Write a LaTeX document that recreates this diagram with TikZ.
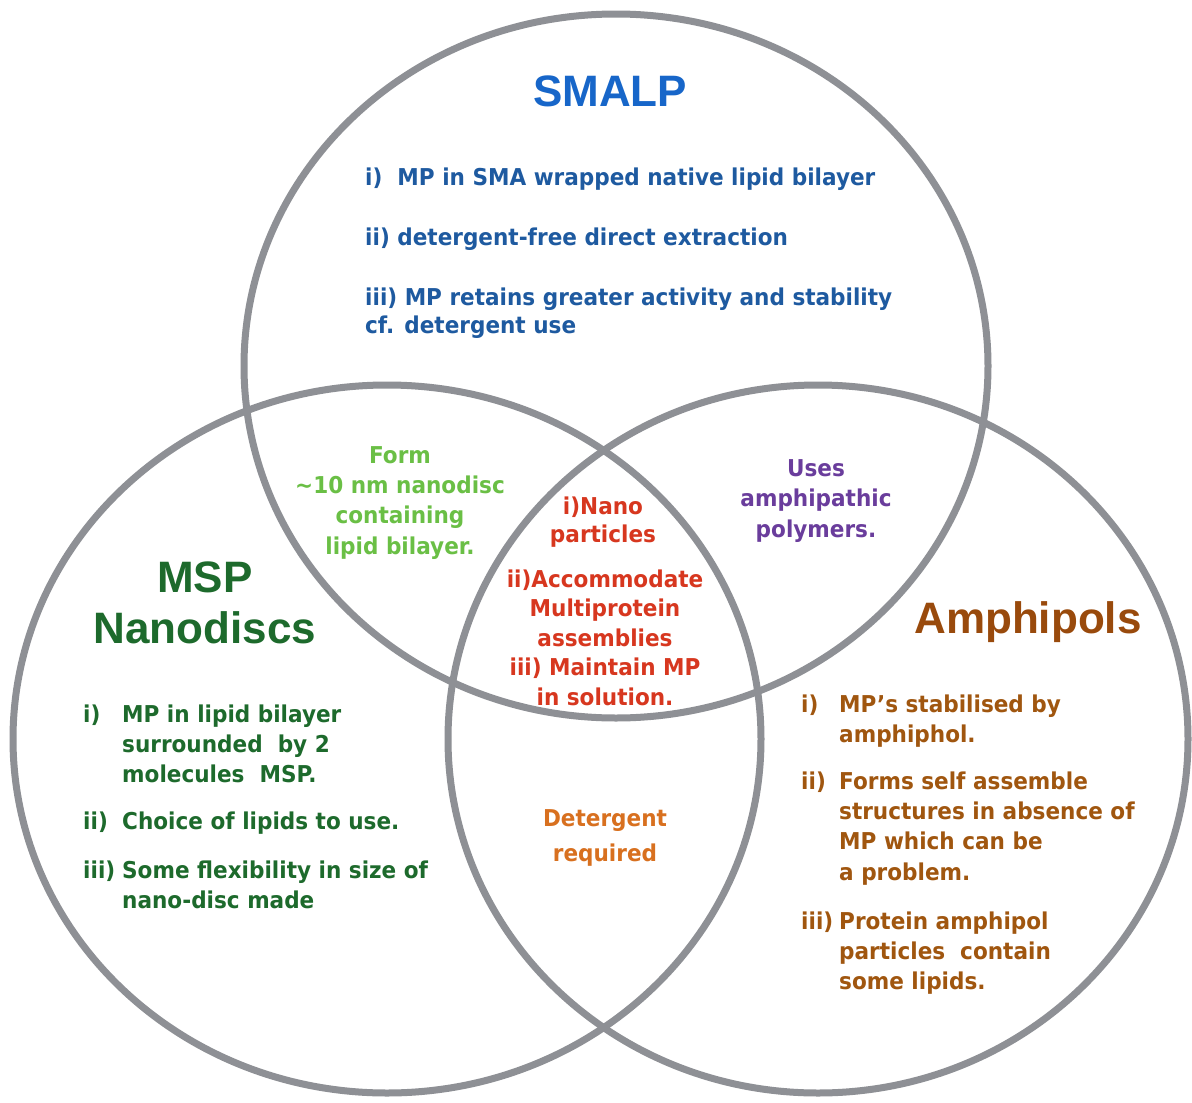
\documentclass[tikz,border=0pt]{standalone}
\usepackage{fontspec}
\newfontfamily\bodyf{DejaVu Sans}[FakeStretch=0.93]
\newfontfamily\titlef{Liberation Sans}
\definecolor{ringgray}{HTML}{8E9095}
\definecolor{smalpblue}{HTML}{1766C9}
\definecolor{smalpbody}{HTML}{1E5AA0}
\definecolor{lgreen}{HTML}{6ABF45}
\definecolor{dgreen}{HTML}{1D6A2C}
\definecolor{purp}{HTML}{6A3D9C}
\definecolor{redc}{HTML}{D7371F}
\definecolor{orangec}{HTML}{D8701F}
\definecolor{brownt}{HTML}{994A0C}
\definecolor{brownb}{HTML}{A0560F}
\begin{document}
\begin{tikzpicture}[x=1pt,y=-1pt,
  ring/.style={draw=ringgray, line width=7pt},
  body/.style={font=\bodyf\bfseries\fontsize{23.2}{30}\selectfont, inner sep=0pt, align=left, anchor=base west},
  cbody/.style={font=\bodyf\bfseries\fontsize{23.2}{30}\selectfont, inner sep=0pt, align=center, anchor=base},
  titletext/.style={font=\titlef\bfseries\fontsize{44}{51}\selectfont, inner sep=0pt, align=center, anchor=base}]
\useasboundingbox (0,0) rectangle (1192,1103);
\fill[white] (0,0) rectangle (1192,1103);
% circles
\draw[ring] (616,366) ellipse [x radius=372pt, y radius=352pt];
\draw[ring] (387,739) ellipse [x radius=374pt, y radius=354pt];
\draw[ring] (818,739) ellipse [x radius=370pt, y radius=354pt];
% SMALP (multi-line nodes are placed at the baseline of their last line)
\node[titletext, text=smalpblue] (smalpT) at (610,106) {SMALP};
\node[body, text=smalpbody] (s1) at (365,185) {i)\ \ MP in SMA wrapped native lipid bilayer};
\node[body, text=smalpbody] (s2) at (365,245) {ii) detergent-free direct extraction};
\node[body, text=smalpbody, font=\bodyf\bfseries\fontsize{23.2}{28}\selectfont] (s3) at (365,333) {iii) MP retains greater activity and stability\\cf. detergent use};
% SMALP & MSP
\node[cbody, text=lgreen, font=\bodyf\bfseries\fontsize{23.2}{30.3}\selectfont] (g) at (400,554) {Form\\\textasciitilde 10 nm nanodisc\\containing\\lipid bilayer.};
% SMALP & Amphipols
\node[cbody, text=purp, font=\bodyf\bfseries\fontsize{23.2}{30.5}\selectfont] (pu) at (816,537) {Uses\\amphipathic\\polymers.};
% centre
\node[cbody, text=redc, font=\bodyf\bfseries\fontsize{23.2}{28}\selectfont] (r1) at (603,542) {i)Nano\\particles};
\node[cbody, text=redc, font=\bodyf\bfseries\fontsize{23.2}{29.5}\selectfont] (r2) at (605,705) {ii)Accommodate\\Multiprotein\\assemblies\\iii) Maintain MP\\in solution.};
% MSP & Amphipols
\node[cbody, text=orangec, font=\bodyf\bfseries\fontsize{23.2}{35}\selectfont] (det) at (605,861) {Detergent\\required};
% MSP
\node[titletext, text=dgreen] (mspT) at (205,643) {MSP\\Nanodiscs};
\node[body, text=dgreen] (m1l) at (83,722) {i)};
\node[body, text=dgreen] (m1) at (122,782) {MP in lipid bilayer\\surrounded\ \ by 2\\molecules\ \ MSP.};
\node[body, text=dgreen] (m2l) at (83,829) {ii)};
\node[body, text=dgreen] (m2) at (122,829) {Choice of lipids to use.};
\node[body, text=dgreen] (m3l) at (83,878) {iii)};
\node[body, text=dgreen] (m3) at (122,908) {Some flexibility in size of\\nano-disc made};
% Amphipols
\node[titletext, text=brownt] (ampT) at (1028,633) {Amphipols};
\node[body, text=brownb] (a1l) at (801,712) {i)};
\node[body, text=brownb] (a1) at (839,742) {MP’s stabilised by\\amphiphol.};
\node[body, text=brownb] (a2l) at (801,789) {ii)};
\node[body, text=brownb, font=\bodyf\bfseries\fontsize{23.2}{30.3}\selectfont] (a2) at (839,880) {Forms self assemble\\structures in absence of\\MP which can be\\a problem.};
\node[body, text=brownb] (a3l) at (801,929) {iii)};
\node[body, text=brownb] (a3) at (839,989) {Protein amphipol\\particles\ \ contain\\some lipids.};
\end{tikzpicture}
\end{document}
